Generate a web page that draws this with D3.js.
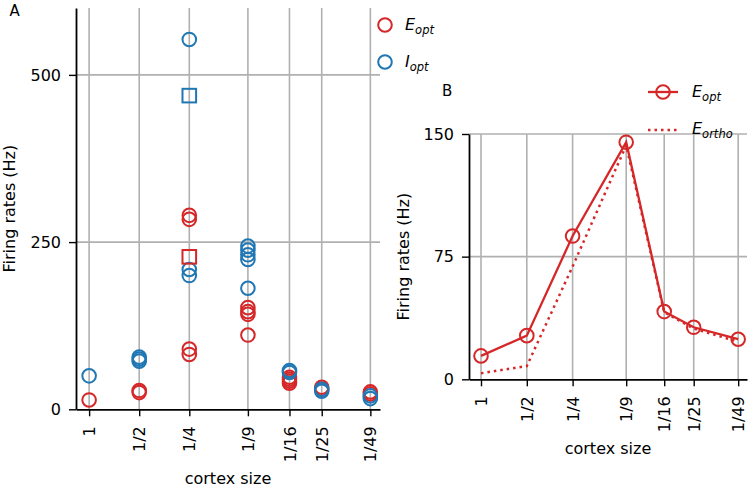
<!DOCTYPE html>
<html>
<head>
<meta charset="utf-8">
<script src="https://cdn.jsdelivr.net/npm/d3@7"></script>
<style>
  body { margin: 0; background: #fff; }
  text { font-family: "DejaVu Sans", sans-serif; fill: #000; }
</style>
</head>
<body>
<svg id="chart" width="750" height="488"></svg>
<script>
// cortex sizes (tick labels) and their numeric values (log x axis)
const sizeLabels = ["1", "1/2", "1/4", "1/9", "1/16", "1/25", "1/49"];
const sizeValues = [1, 2, 4, 9, 16, 25, 49];

// panel A: firing rates of every run, one list per cortex size
const eOptA = [[14], [25, 28], [82, 90, 284, 290], [111, 142, 146, 152], [39, 42, 45, 48], [30, 33], [23, 26]];
const iOptA = [[50], [72, 75, 78], [200, 209, 553], [181, 224, 231, 238, 244], [55, 58], [27, 30], [16, 20]];
// panel A: square markers (at 1/4)
const eSquareA = [{ size: 4, value: 228 }];
const iSquareA = [{ size: 4, value: 469 }];
const yTicksA = [0, 250, 500];

// panel B
const eOptB = [14.3, 26.7, 87.6, 145, 41.4, 31.8, 24.5];
const eOrthoB = [3.7, 8.1, 69, 143, 41, 31, 23];
const yTicksB = [0, 75, 150];

const red = "#d62728", blue = "#1f77b4", grid = "#b0b0b0";
const fs = 16;

const svg = d3.select("#chart");

function drawPanel(x, y, yTicks) {
  const g = svg.append("g");
  const [x0, x1] = x.range();
  const [yb, yt] = y.range();

  // grid
  g.selectAll("line.vgrid").data(sizeValues).enter().append("line")
    .attr("x1", d => x(d)).attr("x2", d => x(d))
    .attr("y1", yt).attr("y2", yb)
    .attr("stroke", grid).attr("stroke-width", 1.6);
  g.selectAll("line.hgrid").data(yTicks.filter(d => d > 0)).enter().append("line")
    .attr("x1", x0).attr("x2", x1)
    .attr("y1", d => y(d)).attr("y2", d => y(d))
    .attr("stroke", grid).attr("stroke-width", 1.6);

  // axes
  const ax = g.append("g").attr("transform", `translate(0,${yb})`)
    .call(d3.axisBottom(x).tickValues(sizeValues).tickFormat((d, i) => sizeLabels[i]).tickSize(7).tickSizeOuter(0));
  ax.selectAll("text")
    .attr("transform", "rotate(-90)")
    .attr("x", -17).attr("y", 0).attr("dy", "0.35em")
    .style("text-anchor", "end")
    .style("font-size", fs + "px");

  const ay = g.append("g").attr("transform", `translate(${x0},0)`)
    .call(d3.axisLeft(y).tickValues(yTicks).tickSize(7).tickSizeOuter(0));
  ay.selectAll("text").attr("x", -15).style("font-size", fs + "px");

  [ax, ay].forEach(a => {
    a.select(".domain").attr("stroke", "#000").attr("stroke-width", 1.8);
    a.selectAll(".tick line").attr("stroke", "#000").attr("stroke-width", 1.4);
    a.selectAll("text").attr("fill", "#000").style("font-family", "DejaVu Sans");
  });

  // axis titles
  g.append("text")
    .attr("x", (x0 + x1) / 2).attr("y", yb + 0)
    .attr("class", "xlabel")
    .attr("text-anchor", "middle")
    .style("font-size", fs + "px")
    .text("cortex size");
  return g;
}

// ---------- panel A ----------
const xA = d3.scaleLog().domain([0.834, 56]).range([76, 380]);
const yA = d3.scaleLinear().domain([0, 600]).range([409.3, 8]);
const gA = drawPanel(xA, yA, yTicksA);
gA.select(".xlabel").attr("y", 484);
gA.append("text")
  .attr("transform", `translate(15,${(409.3 + 8) / 2}) rotate(-90)`)
  .attr("text-anchor", "middle")
  .style("font-size", fs + "px")
  .text("Firing rates (Hz)");
svg.append("text").attr("x", 9.5).attr("y", 16).style("font-size", "15px").text("A");

const flat = arr => arr.flatMap((vals, i) => vals.map(v => ({ size: sizeValues[i], value: v })));

const r = 6.8;
gA.selectAll("circle.e").data(flat(eOptA)).enter().append("circle")
  .attr("cx", d => xA(d.size)).attr("cy", d => yA(d.value)).attr("r", r)
  .attr("fill", "none").attr("stroke", red).attr("stroke-width", 2);
gA.selectAll("circle.i").data(flat(iOptA)).enter().append("circle")
  .attr("cx", d => xA(d.size)).attr("cy", d => yA(d.value)).attr("r", r)
  .attr("fill", "none").attr("stroke", blue).attr("stroke-width", 2);
[[eSquareA, red], [iSquareA, blue]].forEach(([data, c]) => {
  gA.selectAll(null).data(data).enter().append("rect")
    .attr("x", d => xA(d.size) - r).attr("y", d => yA(d.value) - r)
    .attr("width", 2 * r).attr("height", 2 * r)
    .attr("fill", "none").attr("stroke", c).attr("stroke-width", 2);
});

// legend A
const legA = svg.append("g");
[["E", red, 25], ["I", blue, 62]].forEach(([name, c, yy]) => {
  legA.append("circle").attr("cx", 385).attr("cy", yy).attr("r", r)
    .attr("fill", "none").attr("stroke", c).attr("stroke-width", 2);
  const t = legA.append("text").attr("x", 405).attr("y", yy + 5)
    .style("font-size", fs + "px").style("font-style", "italic");
  t.append("tspan").text(name);
  t.append("tspan").attr("dy", 3.5).style("font-size", "11.5px").text("opt");
});

// ---------- panel B ----------
const xB = d3.scaleLog().domain([0.834, 56]).range([469, 747]);
const yB = d3.scaleLinear().domain([0, 150]).range([379.3, 134]);
const gB = drawPanel(xB, yB, yTicksB);
gB.select(".xlabel").attr("y", 454);
gB.append("text")
  .attr("transform", `translate(409,${(379.3 + 134) / 2}) rotate(-90)`)
  .attr("text-anchor", "middle")
  .style("font-size", fs + "px")
  .text("Firing rates (Hz)");
svg.append("text").attr("x", 442).attr("y", 95.5).style("font-size", "15px").text("B");

const lineB = d3.line().x((d, i) => xB(sizeValues[i])).y(d => yB(d));
gB.append("path").datum(eOrthoB).attr("d", lineB)
  .attr("fill", "none").attr("stroke", red).attr("stroke-width", 2.5)
  .attr("stroke-dasharray", "2.5,4");
gB.append("path").datum(eOptB).attr("d", lineB)
  .attr("fill", "none").attr("stroke", red).attr("stroke-width", 2.3);
gB.selectAll("circle.b").data(eOptB).enter().append("circle")
  .attr("cx", (d, i) => xB(sizeValues[i])).attr("cy", d => yB(d)).attr("r", r)
  .attr("fill", "none").attr("stroke", red).attr("stroke-width", 2);

// legend B
const legB = svg.append("g");
legB.append("line").attr("x1", 648).attr("x2", 678).attr("y1", 92).attr("y2", 92)
  .attr("stroke", red).attr("stroke-width", 2.3);
legB.append("circle").attr("cx", 663).attr("cy", 92).attr("r", r)
  .attr("fill", "none").attr("stroke", red).attr("stroke-width", 2);
legB.append("line").attr("x1", 648).attr("x2", 678).attr("y1", 130).attr("y2", 130)
  .attr("stroke", red).attr("stroke-width", 2.5).attr("stroke-dasharray", "2.5,4");
[["opt", 97], ["ortho", 134]].forEach(([sub, yy]) => {
  const t = legB.append("text").attr("x", 692).attr("y", yy)
    .style("font-size", fs + "px").style("font-style", "italic");
  t.append("tspan").text("E");
  t.append("tspan").attr("dy", 3.5).style("font-size", "11.5px").text(sub);
});
</script>
</body>
</html>
